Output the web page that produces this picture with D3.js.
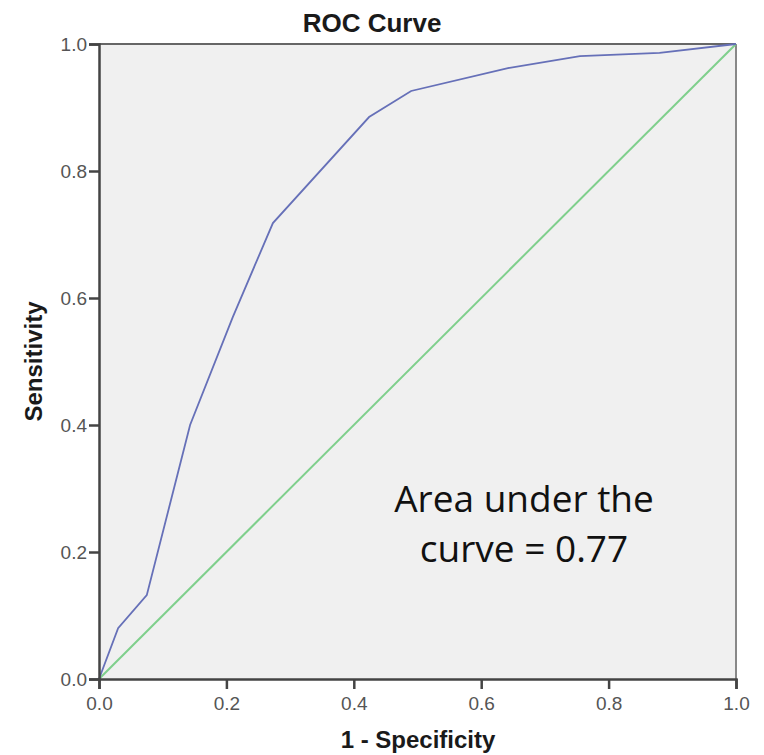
<!DOCTYPE html>
<meta charset="utf-8">
<head>
<script src="https://d3js.org/d3.v7.min.js"></script>
<style>
  body { margin: 0; background: #fff; }
  .tick text { font-family: Arial, "Liberation Sans", sans-serif; fill: #555; }
</style>
</head>
<body>
<script>
  // ROC curve points (1 - specificity, sensitivity)
  fpr = [0, 0.03, 0.075, 0.143, 0.21, 0.273, 0.424, 0.49, 0.642, 0.755, 0.88, 1]
  tpr = [0, 0.08, 0.132, 0.40, 0.57, 0.718, 0.885, 0.926, 0.962, 0.981, 0.986, 1]
  refLine = [0, 1]
  ticks = [0, 0.2, 0.4, 0.6, 0.8, 1.0]

  width = 764
  height = 755
  margin = ({top: 44, right: 28, bottom: 76, left: 99})

  x = d3.scaleLinear().domain([0, 1]).range([margin.left, width - margin.right])
  y = d3.scaleLinear().domain([0, 1]).range([height - margin.bottom, margin.top])

  var svg = d3.select("body").append("svg")
    .attr("width", width)
    .attr("height", height)

  // plot background + frame
  svg.append("rect")
    .attr("x", x(0)).attr("y", y(1))
    .attr("width", x(1) - x(0)).attr("height", y(0) - y(1))
    .attr("fill", "#f0f0f0")
  svg.append("line")
    .attr("x1", x(0)).attr("x2", x(1)).attr("y1", y(1)).attr("y2", y(1))
    .attr("stroke", "#666").attr("stroke-width", 2)
  svg.append("line")
    .attr("x1", x(1)).attr("x2", x(1)).attr("y1", y(1)).attr("y2", y(0))
    .attr("stroke", "#888").attr("stroke-width", 2)

  line = d3.line().x(d => x(d[0])).y(d => y(d[1]))

  // chance line
  svg.append("path")
    .datum(refLine.map(v => [v, v]))
    .attr("d", line)
    .attr("fill", "none")
    .attr("stroke", "#7fcf8c")
    .attr("stroke-width", 2)

  // ROC curve
  svg.append("path")
    .datum(fpr.map((v, i) => [v, tpr[i]]))
    .attr("d", line)
    .attr("fill", "none")
    .attr("stroke", "#6670b8")
    .attr("stroke-width", 1.8)

  // axes
  svg.append("g")
    .attr("transform", `translate(0,${y(0)})`)
    .call(d3.axisBottom(x).tickValues(ticks).tickFormat(d3.format(".1f")).tickSize(10).tickPadding(8))
    .call(g => g.selectAll("line, path").attr("stroke", "#444").attr("stroke-width", 2.5))
    .call(g => g.selectAll("text").attr("font-size", 19))

  svg.append("g")
    .attr("transform", `translate(${x(0)},0)`)
    .call(d3.axisLeft(y).tickValues(ticks).tickFormat(d3.format(".1f")).tickSize(10).tickPadding(2))
    .call(g => g.selectAll("line, path").attr("stroke", "#444").attr("stroke-width", 2.5))
    .call(g => g.selectAll("text").attr("font-size", 19))

  // titles
  svg.append("text")
    .attr("x", 372)
    .attr("y", 32)
    .attr("text-anchor", "middle")
    .attr("font-family", "Arial, 'Liberation Sans', sans-serif")
    .attr("font-weight", "bold")
    .attr("font-size", 26)
    .attr("fill", "#1a1a1a")
    .text("ROC Curve")

  svg.append("text")
    .attr("x", 418)
    .attr("y", 748)
    .attr("text-anchor", "middle")
    .attr("font-family", "Arial, 'Liberation Sans', sans-serif")
    .attr("font-weight", "bold")
    .attr("font-size", 24)
    .attr("fill", "#1a1a1a")
    .text("1 - Specificity")

  svg.append("text")
    .attr("transform", `translate(42,${(y(0) + y(1)) / 2}) rotate(-90)`)
    .attr("text-anchor", "middle")
    .attr("font-family", "Arial, 'Liberation Sans', sans-serif")
    .attr("font-weight", "bold")
    .attr("font-size", 24)
    .attr("fill", "#1a1a1a")
    .text("Sensitivity")

  // annotation
  var note = svg.append("text")
    .attr("text-anchor", "middle")
    .attr("font-family", "'Open Sans', 'Noto Sans', sans-serif")
    .attr("font-size", 37)
    .attr("fill", "#111")
  note.append("tspan").attr("x", 524).attr("y", 512).text("Area under the")
  note.append("tspan").attr("x", 524).attr("y", 562).text("curve = 0.77")
</script>
</body>
